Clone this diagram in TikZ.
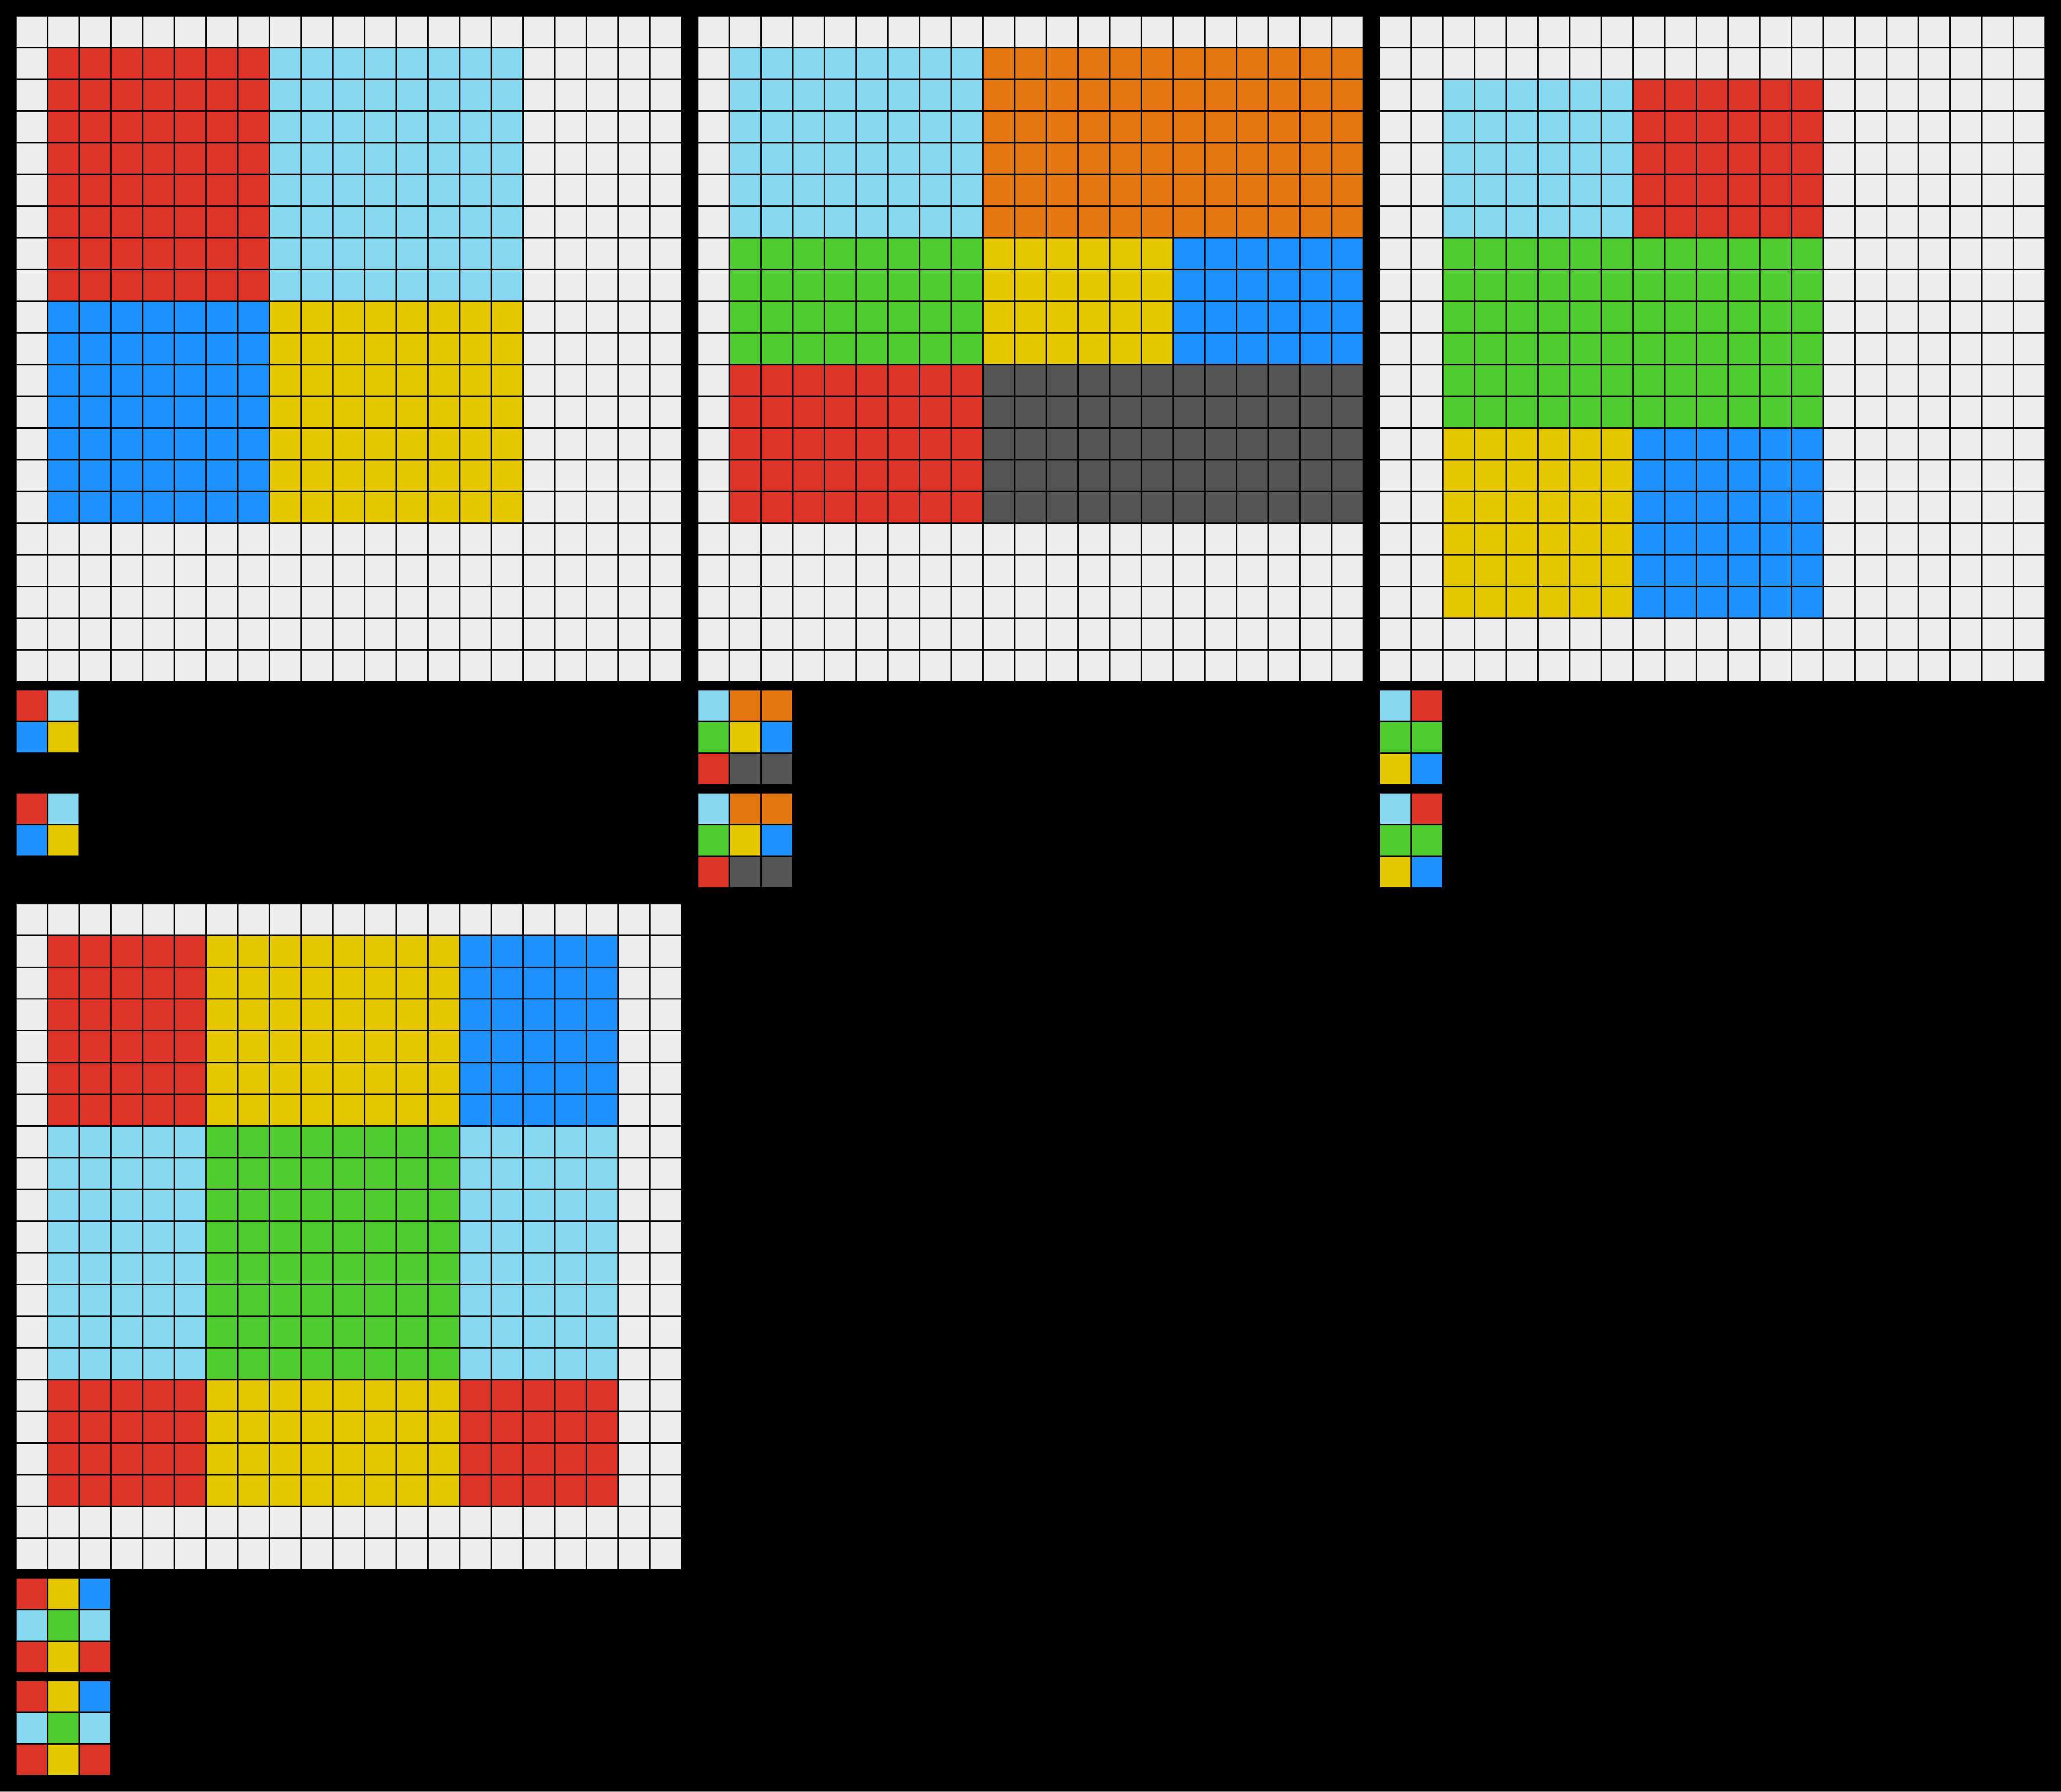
\documentclass[tikz,border=0pt]{standalone}
\definecolor{cred}{HTML}{DE3329}
\definecolor{clblue}{HTML}{87D8F1}
\definecolor{cblue}{HTML}{1E93FF}
\definecolor{cyellow}{HTML}{E6C800}
\definecolor{cgreen}{HTML}{4FCC30}
\definecolor{corange}{HTML}{E67814}
\definecolor{cdgray}{HTML}{555555}
\definecolor{clgray}{HTML}{EEEEEE}
\tikzset{gridline/.style={draw=black,line width=0.047cm}}
% origin x, origin y, col1, row1, col2, row2 (inclusive), colour
\newcommand\cellrect[7]{\fill[#7] ({#1+#3},{#2+#4}) rectangle ({#1+#5+1},{#2+#6+1});}
% origin x, origin y, cols, rows
\newcommand\mygrid[4]{%
  \foreach \ii in {0,...,#3}{\draw[gridline] ({#1+\ii},#2) -- ({#1+\ii},{#2+#4});}
  \foreach \jj in {0,...,#4}{\draw[gridline] (#1,{#2+\jj}) -- ({#1+#3},{#2+\jj});}
}
\begin{document}
\begin{tikzpicture}[x=1cm,y=-1cm]
\fill[black] (0,0) rectangle (65,56.5);
\useasboundingbox (0,0) rectangle (65,56.5);
% ---------- Grid 1 ----------
\cellrect{0.5}{0.5}{0}{0}{20}{20}{clgray}
\cellrect{0.5}{0.5}{1}{1}{7}{8}{cred}
\cellrect{0.5}{0.5}{8}{1}{15}{8}{clblue}
\cellrect{0.5}{0.5}{1}{9}{7}{15}{cblue}
\cellrect{0.5}{0.5}{8}{9}{15}{15}{cyellow}
\mygrid{0.5}{0.5}{21}{21}
\foreach \yy in {21.75,25}{
  \cellrect{0.5}{\yy}{0}{0}{0}{0}{cred}
  \cellrect{0.5}{\yy}{1}{0}{1}{0}{clblue}
  \cellrect{0.5}{\yy}{0}{1}{0}{1}{cblue}
  \cellrect{0.5}{\yy}{1}{1}{1}{1}{cyellow}
  \mygrid{0.5}{\yy}{2}{2}
}
% ---------- Grid 2 ----------
\cellrect{22}{0.5}{0}{0}{20}{20}{clgray}
\cellrect{22}{0.5}{1}{1}{8}{6}{clblue}
\cellrect{22}{0.5}{9}{1}{20}{6}{corange}
\cellrect{22}{0.5}{1}{7}{8}{10}{cgreen}
\cellrect{22}{0.5}{9}{7}{14}{10}{cyellow}
\cellrect{22}{0.5}{15}{7}{20}{10}{cblue}
\cellrect{22}{0.5}{1}{11}{8}{15}{cred}
\cellrect{22}{0.5}{9}{11}{20}{15}{cdgray}
\mygrid{22}{0.5}{21}{21}
\foreach \yy in {21.75,25}{
  \cellrect{22}{\yy}{0}{0}{0}{0}{clblue}
  \cellrect{22}{\yy}{1}{0}{2}{0}{corange}
  \cellrect{22}{\yy}{0}{1}{0}{1}{cgreen}
  \cellrect{22}{\yy}{1}{1}{1}{1}{cyellow}
  \cellrect{22}{\yy}{2}{1}{2}{1}{cblue}
  \cellrect{22}{\yy}{0}{2}{0}{2}{cred}
  \cellrect{22}{\yy}{1}{2}{2}{2}{cdgray}
  \mygrid{22}{\yy}{3}{3}
}
% ---------- Grid 3 ----------
\cellrect{43.5}{0.5}{0}{0}{20}{20}{clgray}
\cellrect{43.5}{0.5}{2}{2}{7}{6}{clblue}
\cellrect{43.5}{0.5}{8}{2}{13}{6}{cred}
\cellrect{43.5}{0.5}{2}{7}{13}{12}{cgreen}
\cellrect{43.5}{0.5}{2}{13}{7}{18}{cyellow}
\cellrect{43.5}{0.5}{8}{13}{13}{18}{cblue}
\mygrid{43.5}{0.5}{21}{21}
\foreach \yy in {21.75,25}{
  \cellrect{43.5}{\yy}{0}{0}{0}{0}{clblue}
  \cellrect{43.5}{\yy}{1}{0}{1}{0}{cred}
  \cellrect{43.5}{\yy}{0}{1}{1}{1}{cgreen}
  \cellrect{43.5}{\yy}{0}{2}{0}{2}{cyellow}
  \cellrect{43.5}{\yy}{1}{2}{1}{2}{cblue}
  \mygrid{43.5}{\yy}{2}{3}
}
% ---------- Grid 4 ----------
\cellrect{0.5}{28.5}{0}{0}{20}{20}{clgray}
\cellrect{0.5}{28.5}{1}{1}{5}{6}{cred}
\cellrect{0.5}{28.5}{6}{1}{13}{6}{cyellow}
\cellrect{0.5}{28.5}{14}{1}{18}{6}{cblue}
\cellrect{0.5}{28.5}{1}{7}{5}{14}{clblue}
\cellrect{0.5}{28.5}{6}{7}{13}{14}{cgreen}
\cellrect{0.5}{28.5}{14}{7}{18}{14}{clblue}
\cellrect{0.5}{28.5}{1}{15}{5}{18}{cred}
\cellrect{0.5}{28.5}{6}{15}{13}{18}{cyellow}
\cellrect{0.5}{28.5}{14}{15}{18}{18}{cred}
\mygrid{0.5}{28.5}{21}{21}
\foreach \yy in {49.75,53}{
  \cellrect{0.5}{\yy}{0}{0}{0}{0}{cred}
  \cellrect{0.5}{\yy}{1}{0}{1}{0}{cyellow}
  \cellrect{0.5}{\yy}{2}{0}{2}{0}{cblue}
  \cellrect{0.5}{\yy}{0}{1}{0}{1}{clblue}
  \cellrect{0.5}{\yy}{1}{1}{1}{1}{cgreen}
  \cellrect{0.5}{\yy}{2}{1}{2}{1}{clblue}
  \cellrect{0.5}{\yy}{0}{2}{0}{2}{cred}
  \cellrect{0.5}{\yy}{1}{2}{1}{2}{cyellow}
  \cellrect{0.5}{\yy}{2}{2}{2}{2}{cred}
  \mygrid{0.5}{\yy}{3}{3}
}
\end{tikzpicture}
\end{document}
